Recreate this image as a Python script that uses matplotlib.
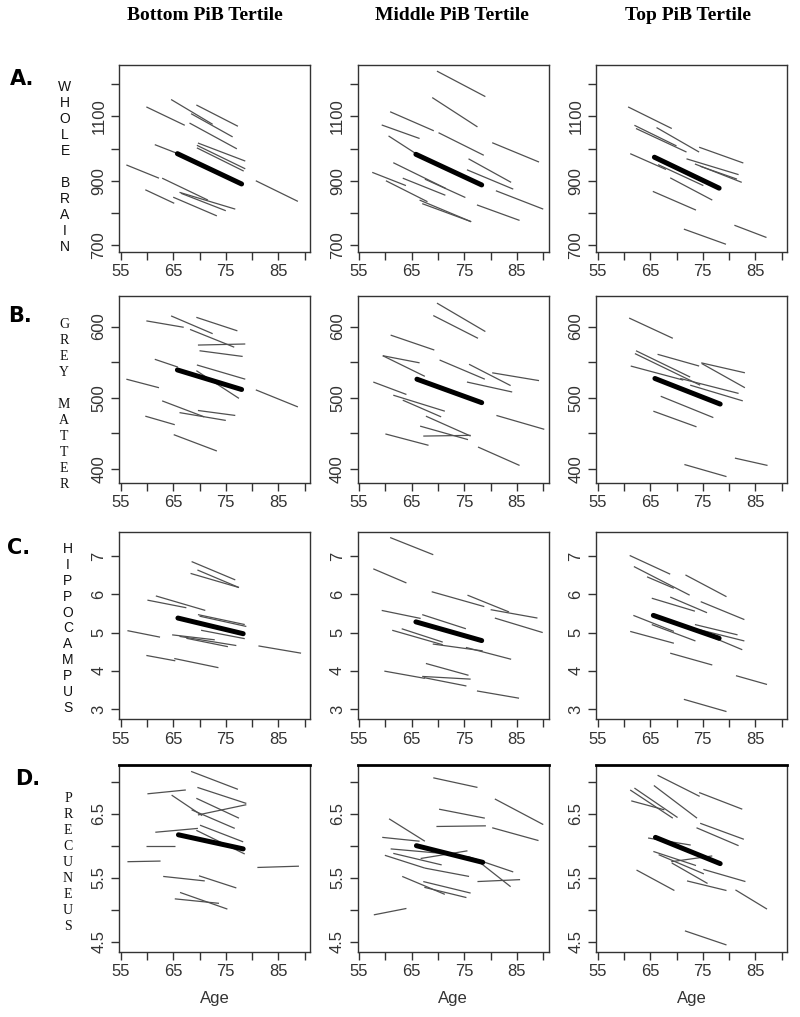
import matplotlib.pyplot as plt

# each subject: (age first scan, age last scan, value first scan, value last scan)
# thick line = group mean trajectory

# ---- whole brain ----
wb_bot = [(59.9, 67.2, 1129, 1072), (64.6, 72.5, 1152, 1075), (69.4, 77.3, 1135, 1069),
          (68.4, 76.3, 1108, 1036), (68.1, 77.1, 1079, 999), (61.5, 65.9, 1012, 984),
          (69.7, 78.7, 1017, 961), (69.5, 78.7, 1010, 937), (69.5, 78.4, 1002, 930),
          (56.1, 62.3, 949, 908), (80.7, 88.7, 900, 836), (62.9, 71.6, 908, 840),
          (66.2, 76.8, 864, 812), (65.0, 73.3, 849, 791), (59.7, 65.2, 872, 830),
          (66.5, 75.0, 861, 807)]
wb_mid = [(69.8, 79.0, 1240, 1161), (68.9, 77.5, 1158, 1067), (60.9, 69.2, 1114, 1055),
          (59.3, 66.5, 1073, 1031), (70.1, 78.7, 1049, 979), (80.3, 89.2, 1018, 958),
          (60.6, 66.0, 1039, 982), (75.8, 83.9, 968, 895), (75.5, 84.3, 934, 874),
          (57.5, 63.9, 926, 885), (60.1, 68.0, 900, 835), (66.5, 76.3, 840, 773),
          (61.5, 71.5, 956, 876), (67.5, 75.2, 905, 848), (63.3, 71.4, 908, 855),
          (67.0, 76.3, 829, 773), (81.0, 90.0, 869, 812), (77.4, 85.5, 825, 777)]
wb_top = [(60.8, 69.1, 1129, 1062), (62.0, 70.0, 1072, 1008), (62.3, 71.9, 1062, 989),
          (66.2, 74.3, 1065, 989), (74.3, 82.7, 1004, 955), (61.2, 68.0, 984, 935),
          (66.5, 75.1, 950, 885), (71.9, 81.8, 968, 919), (73.5, 82.4, 952, 895),
          (74.5, 81.5, 945, 905), (68.8, 76.8, 909, 840), (65.5, 73.7, 867, 809),
          (71.4, 79.4, 750, 703), (81.0, 87.1, 762, 724)]
wb_mean = [(65.8, 78.0, 984, 890), (65.8, 78.3, 982, 887), (65.8, 78.1, 973, 877)]

# ---- grey matter ----
gm_bot = [(59.9, 67.0, 608, 599), (64.6, 72.5, 615, 590), (69.4, 77.2, 613, 594),
          (68.2, 76.6, 596, 571), (69.7, 78.7, 574, 575.5), (70.0, 78.2, 566, 558),
          (61.5, 65.9, 554, 543), (69.5, 78.7, 546, 526), (69.4, 77.5, 538, 499),
          (56.1, 62.3, 526, 514), (80.7, 88.7, 511, 487), (62.9, 70.9, 495.5, 473),
          (66.2, 75.0, 479, 468), (69.7, 76.8, 482, 475), (59.7, 65.3, 474, 462),
          (65.1, 73.3, 448, 425)]
gm_mid = [(69.8, 79.0, 633, 593), (69.1, 77.6, 615.5, 583.5), (61.0, 69.3, 588, 567),
          (59.5, 66.5, 559, 549), (59.5, 67.5, 559, 530), (70.3, 78.9, 553, 526),
          (75.9, 83.8, 547, 517), (80.3, 89.2, 535, 524), (75.5, 84.1, 522, 508),
          (57.7, 64.0, 522, 504.5), (61.5, 71.3, 503.5, 481), (63.3, 70.6, 496.5, 473),
          (81.1, 90.2, 475, 455.5), (67.7, 76.2, 474, 446), (66.6, 75.7, 460, 441),
          (67.2, 76.2, 446, 447), (60.0, 68.2, 449, 433), (77.6, 85.5, 430.6, 404.7)]
gm_top = [(61.0, 69.3, 612, 583.5), (61.3, 71.3, 544.5, 524.7), (62.3, 72.6, 566, 529),
          (62.1, 74.5, 562, 517.6), (66.4, 74.3, 561, 544.5), (74.7, 83.0, 549, 535),
          (74.8, 83.0, 548, 514), (70.7, 81.8, 527, 506), (72.6, 82.6, 517.6, 495.5),
          (67.0, 77.0, 502, 472), (65.6, 73.8, 481, 459), (71.5, 79.5, 406, 389),
          (81.1, 87.3, 415, 404.7)]
gm_mean = [(65.8, 78.0, 539, 511.5), (66.0, 78.3, 526, 493), (65.9, 78.3, 527, 491)]

# ---- hippocampus ----
hc_bot = [(68.5, 76.8, 6.86, 6.38), (69.6, 77.5, 6.64, 6.18), (68.3, 77.5, 6.55, 6.18),
          (61.7, 71.1, 5.96, 5.58), (60.1, 67.5, 5.85, 5.65), (69.7, 78.6, 5.47, 5.21),
          (70.0, 78.9, 5.43, 5.16), (70.3, 78.6, 5.06, 4.84), (56.3, 62.5, 5.05, 4.88),
          (64.8, 72.9, 4.94, 4.81), (66.2, 77.0, 4.90, 4.66), (67.5, 75.4, 4.85, 4.63),
          (81.2, 89.3, 4.65, 4.46), (59.9, 65.4, 4.40, 4.26), (65.2, 73.6, 4.32, 4.08)]
hc_mid = [(60.9, 69.1, 7.49, 7.04), (57.7, 64.0, 6.67, 6.30), (68.8, 78.8, 6.07, 5.68),
          (75.6, 83.5, 5.98, 5.54), (80.0, 88.9, 5.60, 5.38), (80.8, 89.9, 5.38, 5.00),
          (59.3, 66.7, 5.58, 5.37), (67.0, 75.3, 5.47, 5.10), (61.3, 70.9, 5.06, 4.68),
          (63.1, 70.9, 5.10, 4.75), (69.0, 78.5, 4.70, 4.52), (75.3, 83.9, 4.61, 4.30),
          (67.7, 75.8, 4.19, 3.88), (59.8, 67.5, 3.99, 3.80), (67.0, 76.2, 3.85, 3.78),
          (67.3, 75.4, 3.82, 3.60), (77.4, 85.4, 3.47, 3.28)]
hc_top = [(61.1, 68.8, 7.02, 6.53), (61.9, 72.5, 6.73, 5.98), (64.4, 69.5, 6.46, 6.16),
          (71.7, 79.5, 6.51, 5.94), (65.3, 73.5, 5.90, 5.56), (68.8, 75.8, 5.93, 5.52),
          (74.6, 82.9, 5.81, 5.34), (61.8, 69.5, 5.45, 5.03), (65.3, 73.6, 5.21, 4.78),
          (73.5, 81.6, 5.21, 4.94), (74.2, 82.9, 5.08, 4.78), (74.9, 82.5, 4.99, 4.55),
          (61.2, 69.5, 5.03, 4.72), (68.8, 76.8, 4.46, 4.15), (81.3, 87.2, 3.87, 3.64),
          (71.4, 79.5, 3.25, 2.93)]
hc_mean = [(65.9, 78.3, 5.38, 4.97), (65.8, 78.3, 5.28, 4.79), (65.6, 78.1, 5.45, 4.85)]

# ---- precuneus ----
pc_bot = [(68.4, 77.3, 7.16, 6.88), (60.1, 67.4, 6.81, 6.87), (69.6, 78.9, 6.91, 6.66),
          (64.7, 70.5, 6.79, 6.47), (69.4, 77.5, 6.74, 6.43), (69.7, 78.9, 6.48, 6.64),
          (68.5, 76.7, 6.56, 6.27), (70.1, 78.3, 6.32, 6.06), (61.6, 69.7, 6.21, 6.27),
          (69.4, 78.6, 6.24, 5.87), (59.9, 65.3, 6.00, 6.00), (56.3, 62.6, 5.75, 5.76),
          (81.0, 88.9, 5.66, 5.68), (63.1, 71.0, 5.52, 5.45), (69.9, 77.0, 5.53, 5.34),
          (66.3, 75.3, 5.27, 5.01), (65.3, 73.7, 5.17, 5.10)]
pc_mid = [(69.1, 77.5, 7.06, 6.91), (80.8, 90.0, 6.73, 6.33), (70.2, 78.9, 6.57, 6.43),
          (69.7, 79.1, 6.30, 6.31), (80.3, 89.1, 6.28, 6.08), (60.7, 67.5, 6.42, 6.07),
          (59.4, 66.5, 6.13, 6.07), (61.0, 70.7, 5.95, 5.88), (61.5, 70.7, 5.88, 5.70),
          (66.7, 75.6, 5.80, 5.92), (59.9, 67.5, 5.85, 5.65), (67.5, 75.9, 5.65, 5.52),
          (75.7, 84.3, 5.83, 5.59), (77.0, 83.8, 5.80, 5.36), (77.5, 85.6, 5.44, 5.47),
          (63.2, 71.3, 5.52, 5.24), (67.2, 76.2, 5.44, 5.26), (67.4, 75.4, 5.35, 5.19),
          (57.8, 64.0, 4.92, 5.02)]
pc_top = [(66.4, 74.4, 7.10, 6.77), (74.3, 82.5, 6.83, 6.57), (61.2, 69.3, 6.87, 6.43),
          (62.0, 70.2, 6.90, 6.44), (61.4, 67.7, 6.70, 6.56), (65.7, 73.9, 6.94, 6.43),
          (74.5, 82.8, 6.35, 6.10), (73.8, 81.8, 6.28, 6.00), (64.6, 72.7, 6.12, 6.01),
          (65.6, 73.7, 5.91, 5.69), (66.6, 75.2, 5.86, 5.56), (69.0, 76.8, 5.75, 5.84),
          (69.1, 75.9, 5.73, 5.41), (75.1, 83.1, 5.63, 5.44), (62.4, 69.6, 5.62, 5.30),
          (72.0, 79.5, 5.45, 5.30), (81.2, 87.2, 5.31, 5.01), (71.6, 79.5, 4.67, 4.45)]
pc_mean = [(66.0, 78.3, 6.17, 5.95), (65.9, 78.5, 6.00, 5.74), (66.0, 78.3, 6.13, 5.72)]

col_titles = ['Bottom PiB Tertile', 'Middle PiB Tertile', 'Top PiB Tertile']
row_letters = ['A.', 'B.', 'C.', 'D.']
row_names = ['WHOLE BRAIN', 'GREY MATTER', 'HIPPOCAMPUS', 'PRECUNEUS']
x_ticks = [55, 60, 65, 70, 75, 80, 85, 90]
x_labels = ['55', '', '65', '', '75', '', '85', '']
y_ticks = [[700, 800, 900, 1000, 1100, 1200],
           [400, 450, 500, 550, 600],
           [3, 4, 5, 6, 7],
           [4.5, 5.0, 5.5, 6.0, 6.5, 7.0]]
y_labels = [['700', '', '900', '', '1100', ''],
            ['400', '', '500', '', '600'],
            ['3', '4', '5', '6', '7'],
            ['4.5', '', '5.5', '', '6.5', '']]
y_lims = [(679, 1259), (380, 643), (2.735, 7.635), (4.34, 7.26)]

rows = [(wb_bot, wb_mid, wb_top, wb_mean),
        (gm_bot, gm_mid, gm_top, gm_mean),
        (hc_bot, hc_mid, hc_top, hc_mean),
        (pc_bot, pc_mid, pc_top, pc_mean)]

# panel placement in pixels (fig is 800 x 1017)
W, H = 800, 1017
col_left = [119, 357.5, 596]
col_w = 191
row_top = [65, 296, 532, 765]
row_h = 187

fig = plt.figure(figsize=(8, 10.17), dpi=100)
gray = '#505050'

for r in range(4):
    for c in range(3):
        ax = fig.add_axes([col_left[c] / W, 1 - (row_top[r] + row_h) / H,
                           col_w / W, row_h / H])
        for (x0, x1, y0, y1) in rows[r][c]:
            ax.plot([x0, x1], [y0, y1], color=gray, lw=0.9, solid_capstyle='butt')
        mx0, mx1, my0, my1 = rows[r][3][c]
        ax.plot([mx0, mx1], [my0, my1], color='black', lw=3.6, solid_capstyle='round')
        ax.set_xlim(54.7, 91.0)
        ax.set_ylim(*y_lims[r])
        ax.set_xticks(x_ticks)
        ax.set_xticklabels(x_labels, family='Liberation Sans', fontsize=12, color='#333333')
        ax.set_yticks(y_ticks[r])
        ax.set_yticklabels(y_labels[r], family='Liberation Sans', fontsize=12,
                           color='#333333', rotation=90, va='center')
        ax.tick_params(length=6, width=1, color='#333333', pad=3)
        for sp in ax.spines.values():
            sp.set_color('#333333')
            sp.set_linewidth(1)
        if r == 3:
            ax.spines['top'].set_linewidth(2)
            ax.spines['top'].set_color('black')
            ax.set_xlabel('Age', family='Liberation Sans', fontsize=12,
                          color='#333333', labelpad=8)

# column titles
title_x = [205, 452, 688]
for c in range(3):
    fig.text(title_x[c] / W, 1 - 16 / H, col_titles[c], ha='center', va='center',
             family='Liberation Serif', fontweight='bold', fontsize=14)

# row letters
letter_pos = [(10, 79), (8, 316), (7, 548), (15, 779)]
for r in range(4):
    fig.text(letter_pos[r][0] / W, 1 - letter_pos[r][1] / H, row_letters[r],
             ha='left', va='center', family='DejaVu Sans', fontweight='bold', fontsize=15)

# stacked vertical region names
name_font = ['Liberation Sans', 'Liberation Serif', 'Liberation Sans', 'Liberation Serif']
name_start = [(65, 87), (64, 325), (68, 549), (68, 798)]
name_step = [16, 16, 15.9, 16.1]
for r in range(4):
    x0, y0 = name_start[r]
    for i, ch in enumerate(row_names[r]):
        if ch == ' ':
            continue
        fig.text(x0 / W, 1 - (y0 + i * name_step[r]) / H, ch, ha='center', va='center',
                 family=name_font[r], fontsize=10, color='#111111')

fig.savefig('out.png', dpi=100)
